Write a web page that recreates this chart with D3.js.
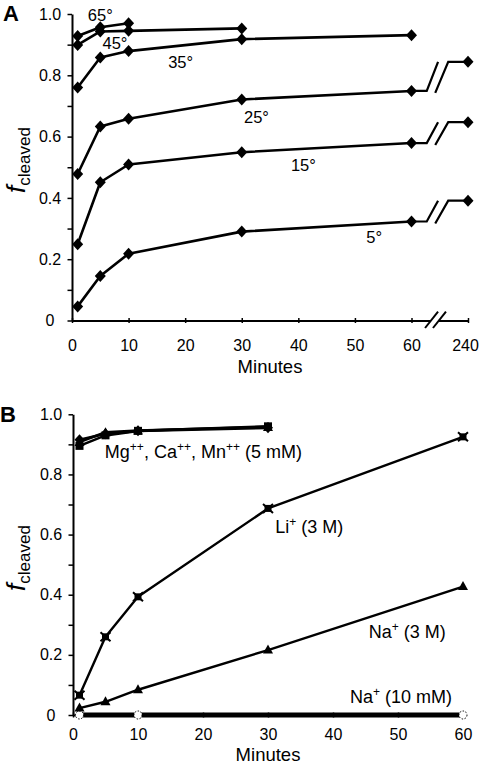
<!DOCTYPE html>
<html><head><meta charset="utf-8">
<script src="https://cdn.jsdelivr.net/npm/d3@7/dist/d3.min.js"></script>
<style>
body{margin:0;background:#fff;}
svg{display:block;font-family:"Liberation Sans",Arial,sans-serif;}
</style></head>
<body><svg id="c" width="480" height="765"></svg>
<script>
// ---------- Panel A data ----------
const timesA = [1, 5, 10, 30, 60, 240];
const tempLabels = ["65°", "45°", "35°", "25°", "15°", "5°"];
const val65 = [0.928, 0.957, 0.970];
const val45 = [0.899, 0.943, 0.945, 0.953];
const val35 = [0.760, 0.858, 0.879, 0.918, 0.931];
const val25 = [0.478, 0.633, 0.658, 0.721, 0.749, 0.844];
const val15 = [0.249, 0.451, 0.509, 0.549, 0.579, 0.647];
const val05 = [0.046, 0.145, 0.218, 0.290, 0.323, 0.391];
const xTicksA = [0, 10, 20, 30, 40, 50, 60, 240];
const yTicks = [0, 0.1, 0.2, 0.3, 0.4, 0.5, 0.6, 0.7, 0.8, 0.9, 1.0];
const yTickLabels = ["0", "", "0.2", "", "0.4", "", "0.6", "", "0.8", "", "1.0"];
// label anchor positions in data units [minutes, fraction]
const tempLabelPos = [[5.0, 0.977], [7.6, 0.886], [19.2, 0.824], [32.6, 0.644], [40.9, 0.487], [53.4, 0.252]];

// ---------- Panel B data ----------
const timesB = [1, 5, 10, 30, 60];
const valMg = [0.915, 0.935, 0.945, 0.955];
const valCa = [0.895, 0.930, 0.945, 0.960];
const valMn = [0.908, 0.940, 0.946, 0.958];
const valLi = [0.066, 0.260, 0.393, 0.687, 0.925];
const valNa3M = [0.023, 0.044, 0.084, 0.216, 0.427];
const timesNaLow = [1, 10, 60];
const valNaLow = [0, 0, 0];
const xTicksB = [0, 10, 20, 30, 40, 50, 60];
const ionLabelPos = [[4.9, 0.855], [31.1, 0.605], [45.5, 0.256], [42.6, 0.040]];

const svg = d3.select("#c");
const FS = 16;

// ---------- scales ----------
const xA = d3.scaleLinear().domain([0, 60, 240]).range([72, 411.5, 468]);
const yA = d3.scaleLinear().domain([0, 1]).range([320.5, 14]);
const xB = d3.scaleLinear().domain([0, 60]).range([73, 463]);
const yB = d3.scaleLinear().domain([0, 1]).range([715, 414.3]);

function diamond(g, x, y) {
  g.append("path").attr("d", `M${x},${y-6}L${x+5.5},${y}L${x},${y+6}L${x-5.5},${y}Z`).attr("fill", "#000");
}

function yAxis(g, y, x0) {
  const ax = d3.axisLeft(y).tickValues(yTicks).tickSizeInner(4.5).tickSizeOuter(0).tickPadding(6)
    .tickFormat((d, i) => yTickLabels[i]);
  g.attr("transform", `translate(${x0},0)`).call(ax);
  g.select(".domain").attr("stroke-width", 2);
  g.selectAll(".tick line").attr("stroke-width", 1.5);
  g.selectAll(".tick text").attr("text-anchor", "middle").attr("x", -22)
    .attr("font-size", FS).attr("fill", "#000").attr("font-family", "Liberation Sans, Arial, sans-serif");
}

function xAxis(g, x, y0, ticks, pad, fmt) {
  const ax = d3.axisBottom(x).tickValues(ticks).tickSizeInner(2.5).tickSizeOuter(0).tickPadding(pad)
    .tickFormat(fmt || (d => d));
  g.attr("transform", `translate(0,${y0})`).call(ax);
  g.select(".domain").attr("stroke-width", 2);
  g.selectAll(".tick line").attr("y1", -2.5).attr("y2", 2.5).attr("stroke-width", 1.5);
  g.selectAll(".tick text").attr("font-size", FS).attr("fill", "#000").attr("font-family", "Liberation Sans, Arial, sans-serif");
}

function yTitle(cx, cy) {
  const t = svg.append("text").attr("transform", `translate(${cx},${cy}) rotate(-90)`)
    .attr("text-anchor", "middle").attr("fill", "#000");
  t.append("tspan").attr("font-size", 26).attr("font-style", "italic").text("f");
  t.append("tspan").attr("font-size", 17).attr("dy", 5).text("cleaved");
}

// ================= PANEL A =================
const gA = svg.append("g");
const gAy = gA.append("g"); yAxis(gAy, yA, 72);
const gAx = gA.append("g");
xAxis(gAx, xA, 320.5, xTicksA, 17);
gAx.selectAll(".tick text").filter(d => d === 240).attr("dx", -3);

// axis break
const brk = (f) => xA(60) + f * (xA(240) - xA(60));
gA.append("path").attr("d", `M${brk(0.24)},328L${brk(0.47)},311.7L${brk(0.61)},311.7L${brk(0.38)},328Z`).attr("fill", "#fff");
[[0.24, 0.47], [0.38, 0.61]].forEach(([a, b]) => {
  gA.append("line").attr("x1", brk(a)).attr("y1", 328).attr("x2", brk(b)).attr("y2", 311.7)
    .attr("stroke", "#000").attr("stroke-width", 2);
});

gA.append("text").attr("x", (xA(0) + xA(240)) / 2).attr("y", 373).attr("text-anchor", "middle")
  .attr("font-size", 18.5).text("Minutes");
yTitle(25, 160);
gA.append("text").attr("x", 3).attr("y", 21).attr("font-size", 22).attr("font-weight", "bold").text("A");

const seriesA = [val65, val45, val35, val25, val15, val05];
const lineA = d3.line().x(d => xA(d[0])).y(d => yA(d[1]));
seriesA.forEach((vals, si) => {
  const pts = vals.map((v, i) => [timesA[i], v]);
  const pre = pts.filter(p => p[0] <= 60);
  const g = gA.append("g");
  g.append("path").attr("d", lineA(pre)).attr("fill", "none").attr("stroke", "#000").attr("stroke-width", 2.6).attr("stroke-linejoin", "round");
  if (pts.length > pre.length) {
    const last = pre[pre.length - 1], fin = pts[pts.length - 1];
    const y1 = yA(last[1]), y2 = yA(fin[1]);
    const p1 = `M${xA(last[0])},${y1}L${brk(0.27)},${y1}L${brk(0.47)},${y2}`;
    const p2 = `M${brk(0.42)},${y1 + 2}L${brk(0.65)},${y2}L${xA(fin[0])},${y2}`;
    g.append("path").attr("d", p1).attr("fill", "none").attr("stroke", "#000").attr("stroke-width", 2.2);
    g.append("path").attr("d", p2).attr("fill", "none").attr("stroke", "#000").attr("stroke-width", 2.2);
  }
  pts.forEach(p => diamond(g, xA(p[0]), yA(p[1])));
});
tempLabels.forEach((t, i) => {
  gA.append("text").attr("x", xA(tempLabelPos[i][0])).attr("y", yA(tempLabelPos[i][1]))
    .attr("text-anchor", "middle").attr("font-size", 16.5).text(t);
});

// ================= PANEL B =================
const gB = svg.append("g");
const gBy = gB.append("g"); yAxis(gBy, yB, 73);
const gBx = gB.append("g");
xAxis(gBx, xB, 715, xTicksB, 11);
gB.append("text").attr("x", (xB(0) + xB(60)) / 2).attr("y", 761).attr("text-anchor", "middle")
  .attr("font-size", 18.5).text("Minutes");
yTitle(25, 558);
gB.append("text").attr("x", 0).attr("y", 422).attr("font-size", 22).attr("font-weight", "bold").text("B");

const lineB = d3.line().x(d => xB(d[0])).y(d => yB(d[1]));
function drawLine(vals, times, w) {
  gB.append("path").attr("d", lineB(vals.map((v, i) => [times[i], v])))
    .attr("fill", "none").attr("stroke", "#000").attr("stroke-width", w).attr("stroke-linejoin", "round");
}
// Na+ 10 mM
drawLine(valNaLow, timesNaLow, 5);
timesNaLow.forEach((t, i) => {
  gB.append("circle").attr("cx", xB(t)).attr("cy", yB(valNaLow[i])).attr("r", 4)
    .attr("fill", "#fff").attr("stroke", "#000").attr("stroke-width", 1).attr("stroke-dasharray", "1.5,1.5");
});
// Na+ 3 M
drawLine(valNa3M, timesB, 2.4);
valNa3M.forEach((v, i) => {
  const x = xB(timesB[i]), y = yB(v);
  gB.append("path").attr("d", `M${x},${y-5.5}L${x+5},${y+3.5}L${x-5},${y+3.5}Z`).attr("fill", "#000");
});
// Li+
drawLine(valLi, timesB, 2.4);
valLi.forEach((v, i) => {
  const x = xB(timesB[i]), y = yB(v);
  gB.append("rect").attr("x", x - 3.5).attr("y", y - 3.5).attr("width", 7).attr("height", 7).attr("fill", "#000");
  gB.append("path").attr("d", `M${x-5},${y-4.5}L${x+5},${y+4.5}M${x-5},${y+4.5}L${x+5},${y-4.5}`)
    .attr("stroke", "#000").attr("stroke-width", 2);
});
// divalent ions
const tDiv = timesB.slice(0, 4);
drawLine(valMg, tDiv, 2.6);
drawLine(valCa, tDiv, 2.6);
drawLine(valMn, tDiv, 2.6);
valMg.forEach((v, i) => {
  const x = xB(tDiv[i]), y = yB(v);
  gB.append("path").attr("d", `M${x},${y-5.5}L${x+5},${y}L${x},${y+5.5}L${x-5},${y}Z`).attr("fill", "#000");
});
valMn.forEach((v, i) => {
  const x = xB(tDiv[i]), y = yB(v);
  gB.append("path").attr("d", `M${x},${y-5}L${x+5},${y+4}L${x-5},${y+4}Z`).attr("fill", "#000");
});
valCa.forEach((v, i) => {
  const x = xB(tDiv[i]), y = yB(v);
  gB.append("rect").attr("x", x - 4).attr("y", y - 4).attr("width", 8).attr("height", 8).attr("fill", "#000");
});

// ion labels (superscripts raised, following text returned to baseline)
function ionLabel(i, parts) {
  const t = gB.append("text").attr("x", xB(ionLabelPos[i][0])).attr("y", yB(ionLabelPos[i][1])).attr("font-size", 18);
  let pending = 0;
  parts.forEach(p => {
    if (p.sup) {
      t.append("tspan").attr("font-size", 12).attr("dy", -7 + pending).text(p.sup);
      pending = 7;
    } else {
      t.append("tspan").attr("dy", pending).text(p.t);
      pending = 0;
    }
  });
}
ionLabel(0, [{t: "Mg"}, {sup: "++"}, {t: ", Ca"}, {sup: "++"}, {t: ", Mn"}, {sup: "++"}, {t: " (5 mM)"}]);
ionLabel(1, [{t: "Li"}, {sup: "+"}, {t: "  (3 M)"}]);
ionLabel(2, [{t: "Na"}, {sup: "+"}, {t: "  (3 M)"}]);
ionLabel(3, [{t: "Na"}, {sup: "+"}, {t: "  (10 mM)"}]);
</script>
</body></html>
